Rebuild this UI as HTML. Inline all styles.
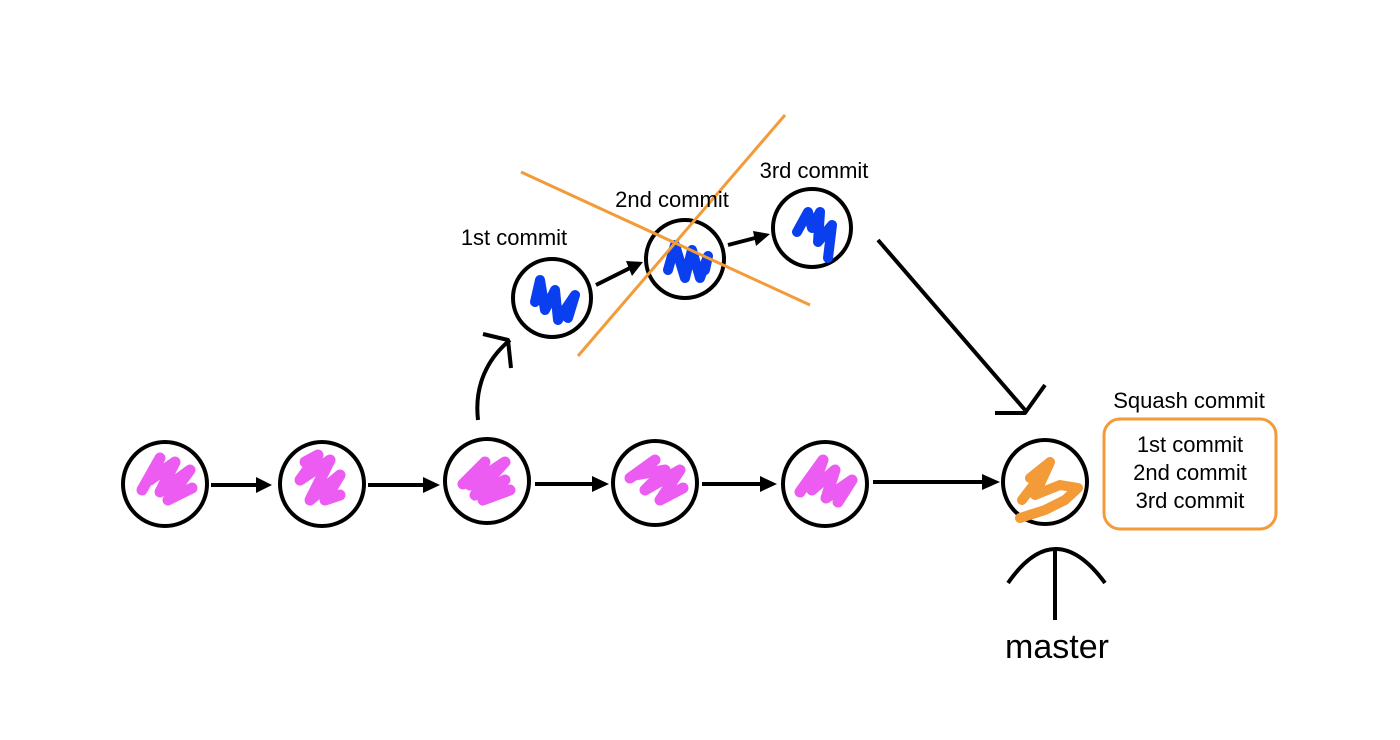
<!DOCTYPE html>
<html><head><style>
html,body{margin:0;padding:0;background:#fff;}
svg{display:block;}
text{font-family:"Liberation Sans",sans-serif;fill:#000;}
</style></head><body>
<svg width="1400" height="740" viewBox="0 0 1400 740" xmlns="http://www.w3.org/2000/svg">
<g fill="none" stroke="#000" stroke-width="4">
<circle cx="165" cy="484" r="42"/>
<circle cx="322" cy="484" r="42"/>
<circle cx="487" cy="481" r="42"/>
<circle cx="655" cy="483" r="42"/>
<circle cx="825" cy="484" r="42"/>
<circle cx="1045" cy="482" r="42"/>
<circle cx="552" cy="298" r="39"/>
<circle cx="685" cy="259" r="39"/>
<circle cx="812" cy="228" r="39"/>
</g>
<g fill="none" stroke="#ec5cf3" stroke-width="11" stroke-linecap="round" stroke-linejoin="round">
<path d="M142,490 L160,458 L150,480 L175,462 L160,492 L190,470 L168,500 L192,488"/>
<path d="M305,462 L318,455 L300,480 L330,460 L310,500 L340,475 L325,500 L340,495"/>
<path d="M463,484 L485,462 L470,485 L505,462 L475,495 L505,480 L483,500 L510,490"/>
<path d="M630,478 L655,460 L635,475 L665,470 L645,490 L680,470 L660,500 L683,488"/>
<path d="M800,492 L823,460 L812,490 L835,470 L826,498 L852,480 L838,502"/>
</g>
<g fill="none" stroke="#0a3ff0" stroke-width="10" stroke-linecap="round" stroke-linejoin="round">
<path d="M535,302 L540,280 L545,310 L555,290 L558,320 L575,295 L568,318"/>
<path d="M668,270 L675,245 L685,278 L692,250 L700,278 L708,256 L705,270"/>
<path d="M797,232 L808,212 L812,228 L820,212 L818,242 L832,225 L828,258"/>
</g>
<path d="M1022,500 L1045,470 L1030,478 L1050,462 L1035,495 L1060,485 L1078,488 L1065,500 L1045,510 L1020,518" fill="none" stroke="#f29b38" stroke-width="10" stroke-linecap="round" stroke-linejoin="round"/>
<g stroke="#f29b38" stroke-width="3">
<line x1="521" y1="172" x2="810" y2="305"/>
<line x1="785" y1="115" x2="578" y2="356"/>
</g>
<g stroke="#000" stroke-width="4">
<line x1="211" y1="485" x2="258" y2="485"/>
<line x1="368" y1="485" x2="423" y2="485"/>
<line x1="535" y1="484" x2="592" y2="484"/>
<line x1="702" y1="484" x2="760" y2="484"/>
<line x1="873" y1="482" x2="983" y2="482"/>
<line x1="596" y1="285" x2="630" y2="268"/>
<line x1="728" y1="245" x2="755" y2="238"/>
</g>
<g fill="#000">
<polygon points="272,485 256,477 256,493"/>
<polygon points="440,485 423,477 423,493"/>
<polygon points="609,484 592,476 592,492"/>
<polygon points="777,484 760,476 760,492"/>
<polygon points="1000,482 982,474 982,490"/>
<polygon points="643,262 626,261 632,276"/>
<polygon points="770,234 753,231 756,246"/>
</g>
<g fill="none" stroke="#000" stroke-width="4" stroke-linejoin="round">
<path d="M478,420 C474,385 488,358 510,340"/>
<path d="M483,334 L508,340 L511,368"/>
<line x1="878" y1="240" x2="1025" y2="410"/>
<path d="M995,413 L1025,413 L1045,385"/>
<path d="M1008,583 Q1055,515 1105,583"/>
<line x1="1055" y1="548" x2="1055" y2="620"/>
</g>
<rect x="1104" y="419" width="172" height="110" rx="16" fill="none" stroke="#f29b38" stroke-width="3"/>
<text x="514" y="245" font-size="22" text-anchor="middle">1st commit</text>
<text x="672" y="207" font-size="22" text-anchor="middle">2nd commit</text>
<text x="814" y="178" font-size="22" text-anchor="middle">3rd commit</text>
<text x="1189" y="408" font-size="22" text-anchor="middle">Squash commit</text>
<text x="1190" y="452" font-size="22" text-anchor="middle">1st commit</text>
<text x="1190" y="480" font-size="22" text-anchor="middle">2nd commit</text>
<text x="1190" y="508" font-size="22" text-anchor="middle">3rd commit</text>
<text x="1057" y="658" font-size="34" text-anchor="middle">master</text>
</svg>
</body></html>
